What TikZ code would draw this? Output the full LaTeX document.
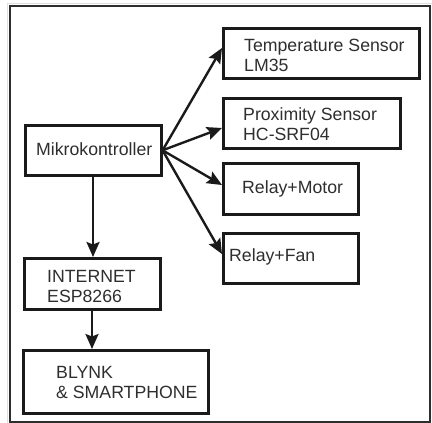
\documentclass[tikz,border=0pt]{standalone}
\usepackage{fontspec}
\setmainfont{Liberation Sans}
\usetikzlibrary{arrows.meta}
\definecolor{ink}{HTML}{1A1A1A}
\definecolor{txtc}{HTML}{2E2E2E}
\begin{document}
\begin{tikzpicture}[x=1pt,y=-1pt,
  box/.style={draw=ink, line width=2.6pt, rectangle, inner sep=0pt, anchor=north west},
  txt/.style={text=txtc, font=\fontsize{17.7}{20}\selectfont, inner sep=0pt, anchor=base west},
  arr/.style={draw=ink, line width=2.4pt, -{Stealth[length=15pt,width=13pt,inset=2.5pt]}}]
\useasboundingbox (0,0) rectangle (432,423);
% frame
\draw[gray!25, line width=1pt] (7,423) -- (7,3) -- (432,3);
\draw[draw=txtc, line width=2.2pt] (10,6) rectangle (430,422);
% boxes
\node[box, minimum width=136pt, minimum height=50pt] (mk) at (24,124) {};
\node[box, minimum width=196pt, minimum height=50pt] (temp) at (222,27) {};
\node[box, minimum width=177pt, minimum height=50pt] (prox) at (222,97) {};
\node[box, minimum width=135pt, minimum height=51pt] (motor) at (222,162) {};
\node[box, minimum width=135pt, minimum height=50pt] (fan) at (222,232) {};
\node[box, minimum width=136pt, minimum height=51pt] (inet) at (23,257) {};
\node[box, minimum width=185pt, minimum height=63pt] (blynk) at (22,349) {};
% texts
\node[txt] (mkt) at (36,155) {Mikrokontroller};
\node[txt] (temp1) at (244,52) {Temperature Sensor};
\node[txt] (temp2) at (244,71) {LM35};
\node[txt] (prox1) at (243,120) {Proximity Sensor};
\node[txt] (prox2) at (243,140) {HC-SRF04};
\node[txt] (motort) at (242,193) {Relay+Motor};
\node[txt] (fant) at (229,261) {Relay+Fan};
\node[txt] (inet1) at (47,282) {INTERNET};
\node[txt] (inet2) at (47,302) {ESP8266};
\node[txt] (bl1) at (56,378) {BLYNK};
\node[txt] (bl2) at (56,398) {\& SMARTPHONE};
% connectors
\coordinate (src) at (mk.east);
\draw[arr] (src) -- (temp.west |- 0,48);
\draw[arr] (src) -- (prox.west |- 0,128);
\draw[arr] (src) -- (motor.west |- 0,185);
\draw[arr] (src) -- (fan.west |- 0,254);
\draw[arr] (mk.south -| 93,0) -- (inet.north -| 93,0);
\draw[arr] (inet.south -| 92,0) -- (blynk.north -| 92,0);
\end{tikzpicture}
\end{document}
